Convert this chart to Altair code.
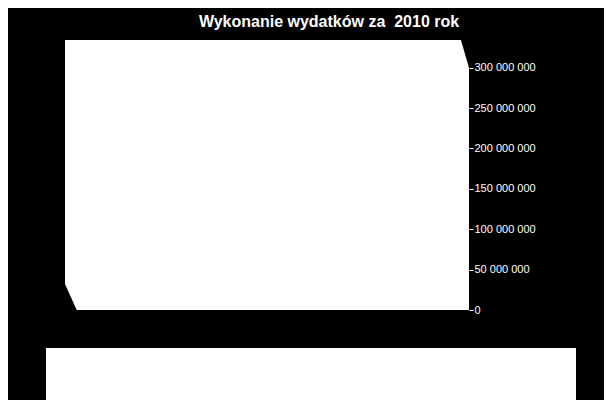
import altair as alt
import pandas as pd

# --- data (chart has no plotted series; only the value axis is shown) ---
title_text = "Wykonanie wydatków za \u00a02010 rok"
y_ticks = [0, 50_000_000, 100_000_000, 150_000_000, 200_000_000, 250_000_000, 300_000_000]
y_top = 334_300_000  # top of the value scale (back wall top)

# 3D wall corner cut-outs (x as fraction of plot width, y in value units)
corner_id = ["tr", "tr", "bl", "bl"]
corner_x = [0.980, 1.0, 0.0, 0.029]
corner_y = [y_top, y_top, 0, 0]
corner_y2 = [y_top, 300_000_000, 32_200_000, 0]

corners = pd.DataFrame({"id": corner_id, "x": corner_x, "y": corner_y, "y2": corner_y2})

x_scale = alt.Scale(domain=[0, 1], nice=False, zero=False)
y_scale = alt.Scale(domain=[0, y_top], nice=False, zero=True)

axis_y = alt.Axis(
    orient="right",
    values=y_ticks,
    format=",d",
    title=None,
    grid=False,
    domain=False,
    ticks=True,
    tickColor="white",
    tickSize=4,
    tickWidth=1,
    labelColor="white",
    labelFont="Liberation Sans",
    labelFontSize=11,
    labelPadding=1,
    labelBaseline="middle",
)

corner_layer = alt.Chart(corners).mark_area(color="black", opacity=1, interpolate="linear").encode(
    x=alt.X("x:Q", scale=x_scale, axis=None),
    y=alt.Y("y:Q", scale=y_scale, axis=axis_y),
    y2="y2:Q",
    detail="id:N",
)

legend_box = alt.Chart(pd.DataFrame({"k": [0]})).mark_rect(color="white").encode(
    x=alt.value(-19), x2=alt.value(511), y=alt.value(308), y2=alt.value(362)
)

chart = alt.layer(corner_layer, legend_box).properties(
    width=404,
    height=270,
    padding={"left": 57, "top": 32, "right": 135, "bottom": 90},
    autosize=alt.AutoSizeParams(type="none"),
    background="black",
    title=alt.TitleParams(
        text=title_text,
        color="white",
        font="Liberation Sans",
        fontSize=16,
        fontWeight="bold",
        anchor="middle",
        frame="group",
        dx=62,
        offset=10,
    ),
).configure(
    view=alt.ViewConfig(fill="white", strokeWidth=0),
    locale=alt.Locale(number=alt.NumberLocale(decimal=",", thousands=" ", grouping=[3], currency=["", " zł"])),
)

chart.save("out.html", embed_options={"renderer": "svg", "actions": False})
